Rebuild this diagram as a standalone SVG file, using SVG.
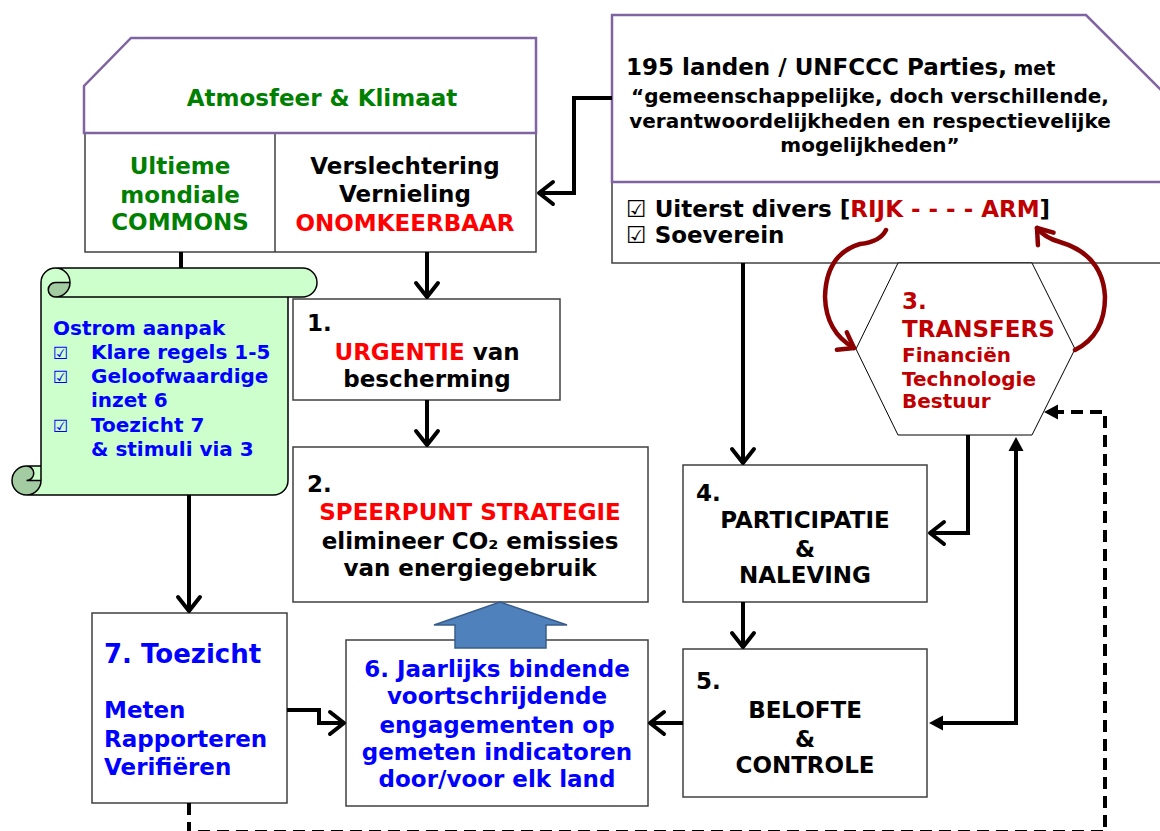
<svg xmlns="http://www.w3.org/2000/svg" width="1160" height="831" viewBox="0 0 1160 831">
<defs>
<style>
.box{fill:#fff;stroke:#404040;stroke-width:1.5}
.pur{fill:#fff;stroke:#8064A2;stroke-width:2.5}
.t{font-family:"DejaVu Sans",Verdana,sans-serif;font-weight:bold;font-size:23px;fill:#000}
.c{text-anchor:middle}
.g{fill:#008000}
.r{fill:#FF0000}
.dr{fill:#C00000}
.b{fill:#0000FF}
.s20{font-size:20px}
.s26{font-size:26px}
.ck{font-weight:normal;font-size:17px}
.con{fill:none;stroke:#000;stroke-width:4;stroke-linejoin:miter}
.red{fill:none;stroke:#8B0000;stroke-width:4.5;stroke-linecap:round}
</style>
<marker id="open" markerUnits="userSpaceOnUse" markerWidth="40" markerHeight="40" viewBox="-20 -20 40 40" refX="0" refY="0" orient="auto" overflow="visible">
<path d="M-14,-11 L0,0 L-14,11" fill="none" stroke="#000" stroke-width="4" stroke-linecap="round" stroke-linejoin="round"/>
</marker>
<marker id="fillA" markerUnits="userSpaceOnUse" markerWidth="40" markerHeight="40" viewBox="-20 -20 40 40" refX="-8" refY="0" orient="auto-start-reverse" overflow="visible">
<path d="M-14,-7.5 L0,0 L-14,7.5 Z" fill="#000"/>
</marker>
<marker id="redA" markerUnits="userSpaceOnUse" markerWidth="40" markerHeight="40" viewBox="-20 -20 40 40" refX="0" refY="0" orient="auto" overflow="visible">
<path d="M-14,-10 L0,0 L-14,10" fill="none" stroke="#8B0000" stroke-width="4.5" stroke-linecap="round" stroke-linejoin="round"/>
</marker>
</defs>
<rect width="1160" height="831" fill="#fff"/>

<g id="atmosfeer">
<rect class="box" x="85" y="133" width="451" height="119"/>
<line x1="275" y1="133" x2="275" y2="252" stroke="#404040" stroke-width="1.5"/>
<polygon class="pur" points="84,133 84,86 131,38 536,38 536,133"/>
<text class="t g c" x="322" y="106">Atmosfeer &amp; Klimaat</text>
<text class="t g c" x="180" y="174">Ultieme</text>
<text class="t g c" x="180" y="203">mondiale</text>
<text class="t g c" x="180" y="230">COMMONS</text>
<text class="t c" x="405" y="174">Verslechtering</text>
<text class="t c" x="405" y="202">Vernieling</text>
<text class="t r c" x="405" y="231">ONOMKEERBAAR</text>
</g>

<g id="landen">
<rect class="box" x="612" y="182" width="600" height="81"/>
<polygon class="pur" points="612,182 612,15 1086,15 1253,182"/>
<text class="t" x="626" y="75">195 landen / UNFCCC Parties,<tspan font-size="19"> met</tspan></text>
<text class="t c s20" x="870" y="103">“gemeenschappelijke, doch verschillende,</text>
<text class="t c s20" x="870" y="128">verantwoordelijkheden en respectievelijke</text>
<text class="t c s20" x="870" y="152">mogelijkheden”</text>
<text class="t" x="626" y="217">☑ Uiterst divers [<tspan class="dr">RIJK - - - - ARM</tspan>]</text>
<text class="t" x="626" y="243">☑ Soeverein</text>
</g>

<g id="ostrom">
<path d="M41,466 L41,282.5 A14.5,14.5 0 0 1 55.5,268 L302.5,268 A14.5,14.5 0 0 1 302.5,297 L288,297 L288,480.5 A14.5,14.5 0 0 1 273.5,495 L26.5,495 A14.5,14.5 0 0 1 26.5,466 Z" fill="#CCFFCC"/>
<path d="M70,282.5 A14.5,14.5 0 0 1 55.5,297 A7.25,7.25 0 0 1 55.5,282.5 Z M41,480.5 A14.5,14.5 0 1 1 26.5,466 A7.25,7.25 0 0 1 26.5,480.5 Z" fill="#A3CCA3"/>
<path d="M41,466 L41,282.5 A14.5,14.5 0 0 1 55.5,268 L302.5,268 A14.5,14.5 0 0 1 302.5,297 L288,297 L288,480.5 A14.5,14.5 0 0 1 273.5,495 L26.5,495 A14.5,14.5 0 0 1 26.5,466 Z M55.5,268 A14.5,14.5 0 0 1 55.5,297 A7.25,7.25 0 0 1 55.5,282.5 L70,282.5 M288,297 L55.5,297 M26.5,466 A7.25,7.25 0 0 1 26.5,480.5 L41,480.5 M26.5,495 A14.5,14.5 0 0 0 41,480.5 L41,466" fill="none" stroke="#000" stroke-width="1.5"/>
<text class="t b s20" x="53" y="335">Ostrom aanpak</text>
<text class="t b ck" x="53" y="359">☑</text>
<text class="t b s20" x="91" y="359">Klare regels 1-5</text>
<text class="t b ck" x="53" y="383">☑</text>
<text class="t b s20" x="91" y="383">Geloofwaardige</text>
<text class="t b s20" x="91" y="407">inzet 6</text>
<text class="t b ck" x="53" y="432">☑</text>
<text class="t b s20" x="91" y="432">Toezicht 7</text>
<text class="t b s20" x="91" y="456">&amp; stimuli via 3</text>
</g>

<g id="urgentie">
<rect class="box" x="293" y="299" width="267" height="101"/>
<text class="t" x="307" y="331">1.</text>
<text class="t c" x="427" y="360"><tspan class="r">URGENTIE</tspan> van</text>
<text class="t c" x="427" y="387">bescherming</text>
</g>

<g id="speerpunt">
<rect class="box" x="293" y="447" width="355" height="155"/>
<text class="t" x="307" y="492">2.</text>
<text class="t r c" x="470" y="520">SPEERPUNT STRATEGIE</text>
<text class="t c" x="470" y="549">elimineer CO₂ emissies</text>
<text class="t c" x="470" y="576">van energiegebruik</text>
</g>

<g id="transfers">
<polygon points="856,349 898,263 1032,263 1075,349 1032,435 898,435" fill="#fff" stroke="#000" stroke-width="1"/>
<text class="t dr" x="902" y="309">3.</text>
<text class="t dr" x="902" y="337">TRANSFERS</text>
<text class="t dr s20" x="902" y="362">Financiën</text>
<text class="t dr s20" x="902" y="386">Technologie</text>
<text class="t dr s20" x="902" y="408">Bestuur</text>
</g>

<g id="participatie">
<rect class="box" x="683" y="465" width="244" height="137"/>
<text class="t" x="696" y="501">4.</text>
<text class="t c" x="805" y="528">PARTICIPATIE</text>
<text class="t c" x="805" y="557">&amp;</text>
<text class="t c" x="805" y="583">NALEVING</text>
</g>

<g id="belofte">
<rect class="box" x="683" y="649" width="244" height="148"/>
<text class="t" x="696" y="689">5.</text>
<text class="t c" x="805" y="718">BELOFTE</text>
<text class="t c" x="805" y="747">&amp;</text>
<text class="t c" x="805" y="773">CONTROLE</text>
</g>

<g id="engagementen">
<rect class="box" x="346" y="640" width="302" height="166"/>
<text class="t b c" x="497" y="677">6. Jaarlijks bindende</text>
<text class="t b c" x="497" y="704">voortschrijdende</text>
<text class="t b c" x="497" y="733">engagementen op</text>
<text class="t b c" x="497" y="760">gemeten indicatoren</text>
<text class="t b c" x="497" y="787">door/voor elk land</text>
</g>

<g id="toezicht">
<rect class="box" x="92" y="613" width="195" height="190"/>
<text class="t b s26" x="104" y="663">7. Toezicht</text>
<text class="t b" x="104" y="718">Meten</text>
<text class="t b" x="104" y="747">Rapporteren</text>
<text class="t b" x="104" y="775">Verifiëren</text>
</g>

<g id="connectors">
<path class="con" d="M612,98 H574 V193 H539" marker-end="url(#open)"/>
<path class="con" d="M427,252 V297" marker-end="url(#open)"/>
<path class="con" d="M427,400 V445" marker-end="url(#open)"/>
<path class="con" d="M181,252 V268"/>
<path class="con" d="M189,495 V611" marker-end="url(#open)"/>
<path class="con" d="M743,263 V463" marker-end="url(#open)"/>
<path class="con" d="M743,602 V647" marker-end="url(#open)"/>
<path class="con" d="M968,435 V533 H930" marker-end="url(#open)"/>
<path class="con" d="M937,723 H1016 V445" marker-start="url(#fillA)" marker-end="url(#fillA)"/>
<path class="con" d="M683,723 H650" marker-end="url(#open)"/>
<path class="con" d="M287,710 H319 V723 H344" marker-end="url(#open)"/>
<path class="con" d="M189,803 V832 H1105 V412 H1052" stroke-dasharray="12 7" marker-end="url(#fillA)"/>
<path class="red" d="M886,230 Q880,242 860,244 Q826,254 825,297 Q826,332 854,348" marker-end="url(#redA)"/>
<path class="red" d="M1075,350 Q1105,335 1105,297 Q1103,255 1060,242 Q1045,238 1037,228" marker-end="url(#redA)"/>
<polygon points="500,602 567,625 546,625 546,648 455,648 455,625 434,625" fill="#4F81BD" stroke="#385D8A" stroke-width="1.5"/>
</g>
</svg>
